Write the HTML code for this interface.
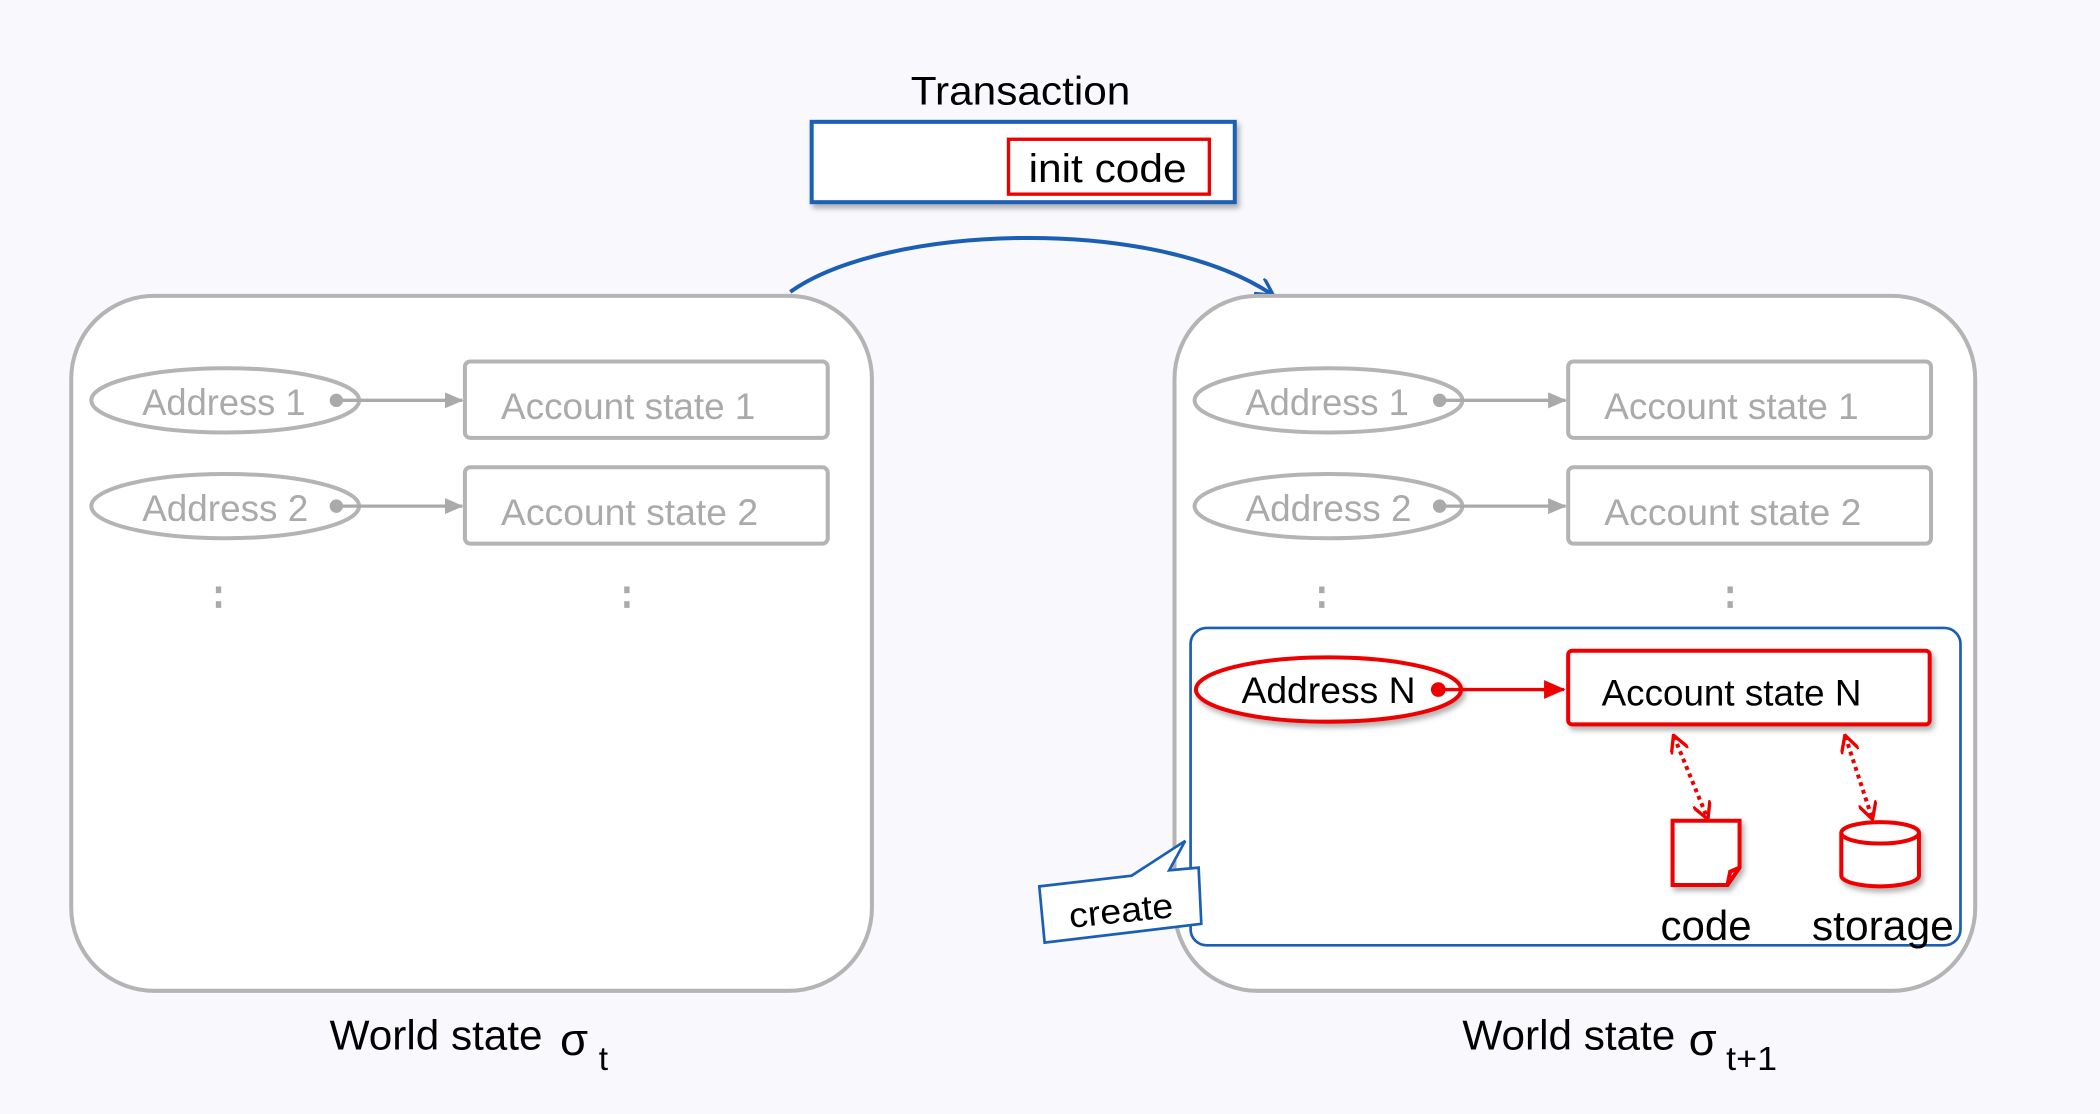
<!DOCTYPE html>
<html><head><meta charset="utf-8"><style>
html,body{margin:0;padding:0;background:#f8f8fd;}
svg{display:block;}
text{font-family:"Liberation Sans",sans-serif;}
</style></head><body>
<svg width="2100" height="1114" viewBox="0 0 1568 832" xmlns="http://www.w3.org/2000/svg">
<defs>
<filter id="sh" x="-10%" y="-10%" width="130%" height="140%"><feDropShadow dx="2" dy="3" stdDeviation="2" flood-color="#000" flood-opacity="0.3"/></filter>
<marker id="ag" markerWidth="14" markerHeight="12" refX="13" refY="6" orient="auto" markerUnits="userSpaceOnUse"><path d="M0,0 L14,6 L0,12 z" fill="#aaa"/></marker>
<marker id="ar" markerWidth="16" markerHeight="14" refX="15" refY="7" orient="auto" markerUnits="userSpaceOnUse"><path d="M0,0 L16,7 L0,14 z" fill="#e00"/></marker>
<marker id="ab" markerWidth="14" markerHeight="14" refX="12" refY="7" orient="auto" markerUnits="userSpaceOnUse"><path d="M0,0 L13,7 L0,14" fill="none" stroke="#1a5fb4" stroke-width="2.5"/></marker>
<marker id="ad" markerWidth="14" markerHeight="14" refX="12" refY="7" orient="auto-start-reverse" markerUnits="userSpaceOnUse"><path d="M0,0 L13,7 L0,14" fill="none" stroke="#e00" stroke-width="2.5"/></marker>
</defs>
<rect width="1568" height="832" fill="#f8f8fd"/>
<text x="762" y="78" font-size="30" text-anchor="middle" textLength="164" lengthAdjust="spacingAndGlyphs">Transaction</text>
<rect x="606" y="91" width="316" height="60" fill="#fff" stroke="#1a5fb4" stroke-width="3" filter="url(#sh)"/>
<rect x="753" y="104" width="150" height="41" fill="#fff" stroke="#e00" stroke-width="2.5"/>
<text x="827" y="136" font-size="30" text-anchor="middle" textLength="118" lengthAdjust="spacingAndGlyphs">init code</text>
<path d="M590,218 C660,168 860,160 950,220" fill="none" stroke="#1a5fb4" stroke-width="3" marker-end="url(#ab)"/>

<g id="L">
<rect x="53" y="221" width="598" height="519" rx="62" fill="#fff" stroke="#b4b4b4" stroke-width="3"/>
<ellipse cx="168" cy="299" rx="100" ry="24" fill="#fff" stroke="#b4b4b4" stroke-width="3"/>
<text x="106" y="310" font-size="28" fill="#aaa" textLength="122" lengthAdjust="spacingAndGlyphs">Address 1</text>
<circle cx="251" cy="299" r="5" fill="#aaa"/>
<line x1="251" y1="299" x2="345" y2="299" stroke="#aaa" stroke-width="2.5" marker-end="url(#ag)"/>
<rect x="347" y="270" width="271" height="57" rx="4" fill="#fff" stroke="#b4b4b4" stroke-width="3"/>
<text x="374" y="313" font-size="28" fill="#aaa" textLength="190" lengthAdjust="spacingAndGlyphs">Account state 1</text>
<ellipse cx="168" cy="378" rx="100" ry="24" fill="#fff" stroke="#b4b4b4" stroke-width="3"/>
<text x="106" y="389" font-size="28" fill="#aaa" textLength="124" lengthAdjust="spacingAndGlyphs">Address 2</text>
<circle cx="251" cy="378" r="5" fill="#aaa"/>
<line x1="251" y1="378" x2="345" y2="378" stroke="#aaa" stroke-width="2.5" marker-end="url(#ag)"/>
<rect x="347" y="349" width="271" height="57" rx="4" fill="#fff" stroke="#b4b4b4" stroke-width="3"/>
<text x="374" y="392" font-size="28" fill="#aaa" textLength="192" lengthAdjust="spacingAndGlyphs">Account state 2</text>
<rect x="161" y="438" width="4" height="5" fill="#aaa"/><rect x="161" y="449" width="4" height="5" fill="#aaa"/>
<rect x="466" y="438" width="4" height="5" fill="#aaa"/><rect x="466" y="449" width="4" height="5" fill="#aaa"/>
</g>
<use href="#L" x="824"/>

<rect x="889" y="469" width="575" height="237" rx="12" fill="#fff" stroke="#1a5fb4" stroke-width="2"/>
<ellipse cx="992" cy="515" rx="99" ry="24" fill="#fff" stroke="#e00" stroke-width="3" filter="url(#sh)"/>
<text x="927" y="525" font-size="28" textLength="130" lengthAdjust="spacingAndGlyphs">Address N</text>
<circle cx="1074" cy="515" r="5.5" fill="#e00"/>
<line x1="1074" y1="515" x2="1168" y2="515" stroke="#e00" stroke-width="2.5" marker-end="url(#ar)"/>
<rect x="1171" y="486" width="270" height="55" rx="3" fill="#fff" stroke="#e00" stroke-width="3" filter="url(#sh)"/>
<text x="1196" y="527" font-size="28" textLength="194" lengthAdjust="spacingAndGlyphs">Account state N</text>
<line x1="1250" y1="550" x2="1275" y2="611" stroke="#e00" stroke-width="3" stroke-dasharray="3,3" marker-start="url(#ad)" marker-end="url(#ad)"/>
<line x1="1378" y1="550" x2="1398" y2="611" stroke="#e00" stroke-width="3" stroke-dasharray="3,3" marker-start="url(#ad)" marker-end="url(#ad)"/>
<path d="M1249,613 L1299,613 L1299,648 L1290,661 L1249,661 Z M1290,661 L1292,651 L1299,648" fill="#fff" stroke="#e00" stroke-width="3" filter="url(#sh)"/>
<g filter="url(#sh)">
<path d="M1375,622 L1375,654 A29,8 0 0 0 1433,654 L1433,622" fill="#fff" stroke="#e00" stroke-width="3"/>
<ellipse cx="1404" cy="622" rx="29" ry="8" fill="#fff" stroke="#e00" stroke-width="3"/>
</g>
<text x="1274" y="702" font-size="31" text-anchor="middle" textLength="68" lengthAdjust="spacingAndGlyphs">code</text>
<text x="1406" y="702" font-size="31" text-anchor="middle" textLength="106" lengthAdjust="spacingAndGlyphs">storage</text>

<path d="M776,662 L845,654 L885,628 L873,650 L895,648 L897,690 L780,704 Z" fill="#fff" stroke="#1a5fb4" stroke-width="2"/>
<text x="837" y="689" font-size="26" text-anchor="middle" transform="rotate(-6 837 680)" textLength="78" lengthAdjust="spacingAndGlyphs">create</text>

<text x="246" y="784" font-size="31" textLength="159" lengthAdjust="spacingAndGlyphs">World state</text>
<text x="418" y="788" font-size="34">σ</text>
<text x="447" y="799" font-size="25">t</text>
<text x="1092" y="784" font-size="31" textLength="159" lengthAdjust="spacingAndGlyphs">World state</text>
<text x="1261" y="788" font-size="34">σ</text>
<text x="1289" y="799" font-size="25" textLength="38" lengthAdjust="spacingAndGlyphs">t+1</text>
</svg>
</body></html>
